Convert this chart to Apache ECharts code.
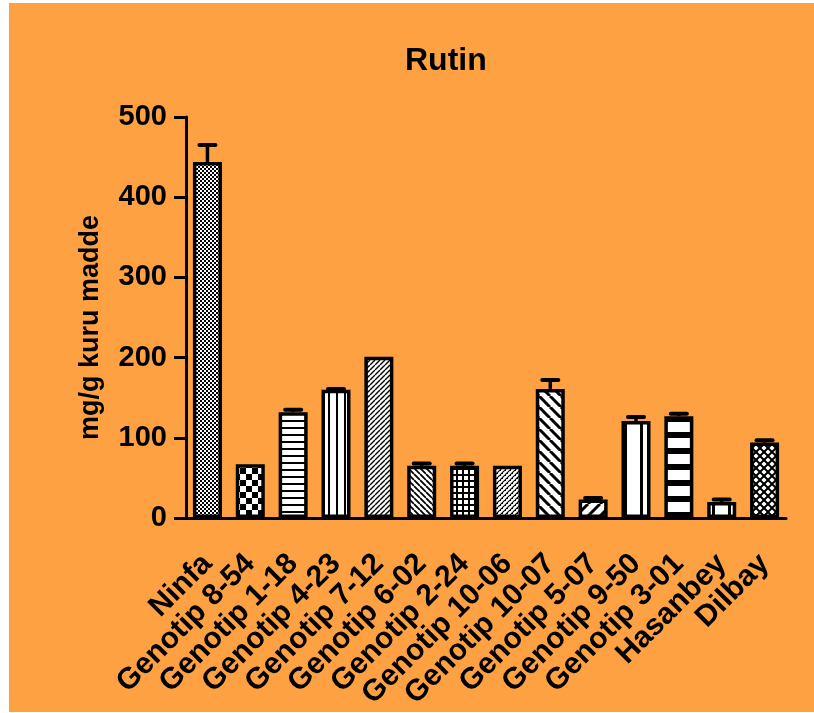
<!DOCTYPE html>
<html>
<head>
<meta charset="utf-8">
<script src="https://cdn.jsdelivr.net/npm/echarts@6/dist/echarts.min.js"></script>
<style>
html,body{margin:0;padding:0;background:#fff;}
#chart{width:814px;height:713px;}
</style>
</head>
<body>
<div id="chart"></div>
<script>
// ---- data ----
const categories = ['Ninfa','Genotip 8-54','Genotip 1-18','Genotip 4-23','Genotip 7-12','Genotip 6-02','Genotip 2-24','Genotip 10-06','Genotip 10-07','Genotip 5-07','Genotip 9-50','Genotip 3-01','Hasanbey','Dilbay'];
const values = [444, 67, 132, 160, 201, 65, 65, 65, 161, 23, 121, 127, 20, 94];
const errors = [21, 0, 3, 1, 0, 3, 3, 0, 11, 2, 5, 3, 3, 3];
const yTicks = [0, 100, 200, 300, 400, 500];
const titleText = 'Rutin';
const yName = 'mg/g kuru madde';

// ---- patterns (style) ----
const ORANGE = '#FEA143';
function tile(w, h, draw) {
  const c = document.createElement('canvas');
  c.width = w; c.height = h;
  const g = c.getContext('2d');
  g.fillStyle = '#fff'; g.fillRect(0, 0, w, h);
  g.fillStyle = '#000'; g.strokeStyle = '#000';
  draw(g, w, h);
  return { image: c, repeat: 'repeat' };
}
function diag(g, s, lw, dir) {
  g.lineWidth = lw;
  g.beginPath();
  for (let k = -1; k <= 1; k++) {
    if (dir > 0) { g.moveTo(k * s, s); g.lineTo(k * s + s, 0); }
    else { g.moveTo(k * s, 0); g.lineTo(k * s + s, s); }
  }
  g.stroke();
}
const patterns = [
  tile(4, 4, g => { g.fillRect(0, 0, 2, 2); g.fillRect(2, 2, 2, 2); }),
  tile(12, 12, g => { g.fillRect(0, 0, 6, 6); g.fillRect(6, 6, 6, 6); }),
  tile(4, 7, g => { g.fillRect(0, 0, 4, 2); }),
  tile(8, 4, g => { g.fillRect(0, 0, 2, 4); }),
  tile(5, 5, g => diag(g, 5, 1.4, 1)),
  tile(6, 6, g => diag(g, 6, 1.8, -1)),
  tile(6, 6, g => { g.fillRect(0, 0, 6, 2); g.fillRect(0, 0, 2, 6); }),
  tile(5, 5, g => { diag(g, 5, 1.1, 1); g.fillRect(0, 0, 1, 1); g.fillRect(2, 3, 1, 1); }),
  tile(11, 11, g => diag(g, 11, 3, -1)),
  tile(12, 12, g => diag(g, 12, 3, 1)),
  tile(16, 4, g => { g.fillRect(0, 0, 3, 4); }),
  tile(4, 16, g => { g.fillRect(0, 0, 4, 6); }),
  tile(16, 4, g => { g.fillRect(8, 0, 3, 4); }),
  tile(8, 8, g => { diag(g, 8, 2, 1); diag(g, 8, 2, -1); })
];

const FONT = 'Liberation Sans';
const chart = echarts.init(document.getElementById('chart'), null, { renderer: 'canvas' });
chart.setOption({
  backgroundColor: '#fff',
  animation: false,
  graphic: [{
    type: 'rect', z: -100, silent: true,
    shape: { x: 9, y: 3, width: 805, height: 709 },
    style: { fill: ORANGE }
  }],
  title: {
    text: titleText, left: 400, top: 40,
    textStyle: { fontFamily: FONT, fontWeight: 'bold', fontSize: 32, color: '#000' }
  },
  grid: { left: 186, right: 28, top: 117, bottom: 195, containLabel: false, outerBoundsMode: 'none' },
  xAxis: {
    type: 'category', data: categories,
    axisLine: { lineStyle: { color: '#000', width: 3 } },
    axisTick: { alignWithLabel: true, interval: 0, length: 12, lineStyle: { color: '#000', width: 3 } },
    axisLabel: { interval: 0, rotate: 45, margin: 41, fontFamily: FONT, fontWeight: 'bold', fontSize: 30, color: '#000' }
  },
  yAxis: {
    type: 'value', min: yTicks[0], max: yTicks[yTicks.length - 1], interval: yTicks[1] - yTicks[0],
    name: yName, nameLocation: 'middle', nameGap: 82,
    nameTextStyle: { fontFamily: FONT, fontWeight: 'bold', fontSize: 27, color: '#000', padding: [0, 20, 0, 0] },
    axisLine: { show: true, lineStyle: { color: '#000', width: 3 } },
    axisTick: { show: true, length: 12, lineStyle: { color: '#000', width: 3 } },
    axisLabel: { margin: 19, fontFamily: FONT, fontWeight: 'bold', fontSize: 29, color: '#000' },
    splitLine: { show: false }
  },
  series: [{
    type: 'bar', barWidth: 29,
    data: values.map((v, i) => ({ value: v, itemStyle: { color: patterns[i] } })),
    itemStyle: { borderColor: '#000', borderWidth: 3.5 }
  }, {
    type: 'custom', z: 5,
    data: categories.map((c, i) => [i, values[i], errors[i]]),
    encode: { x: 0, y: 1 },
    renderItem: (params, api) => {
      const i = api.value(0), v = api.value(1), e = api.value(2);
      if (!e) return null;
      const p0 = api.coord([i, v]);
      const p1 = api.coord([i, v + e]);
      return {
        type: 'group', children: [
          { type: 'line', shape: { x1: p0[0], y1: p0[1], x2: p1[0], y2: p1[1] }, style: { stroke: '#000', lineWidth: 3.5 } },
          { type: 'line', shape: { x1: p1[0] - 8, y1: p1[1], x2: p1[0] + 8, y2: p1[1] }, style: { stroke: '#000', lineWidth: 4, lineCap: 'round' } }
        ]
      };
    }
  }]
});
</script>
</body>
</html>
